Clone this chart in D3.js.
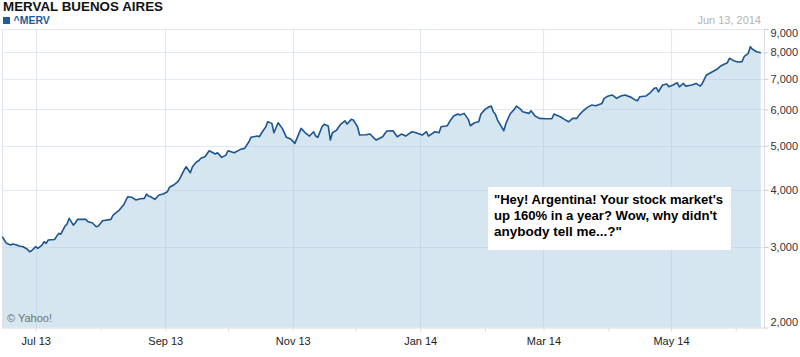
<!DOCTYPE html>
<html><head><meta charset="utf-8">
<script src="https://cdn.jsdelivr.net/npm/d3@7"></script>
<style>
html,body{margin:0;padding:0;background:#fff;}
svg{display:block;font-family:"Liberation Sans",Arial,sans-serif;}
</style></head>
<body><svg id="c" width="800" height="357"></svg>
<script>
const title = "MERVAL BUENOS AIRES";
const seriesName = "^MERV";
const dateLabel = "Jun 13, 2014";
const credit = "\u00A9 Yahoo!";
const noteLines = ["\"Hey! Argentina! Your stock market's", "up 160% in a year? Wow, why didn't", "anybody tell me...?\""];
const yTicks = [2000, 3000, 4000, 5000, 6000, 7000, 8000, 9000];
const xTickMonths = ["2013-07-01","2013-08-01","2013-09-01","2013-10-01","2013-11-01","2013-12-01","2014-01-01","2014-02-01","2014-03-01","2014-04-01","2014-05-01","2014-06-01"];
const xLabelMonths = ["2013-07-01","2013-09-01","2013-11-01","2014-01-01","2014-03-01","2014-05-01"];

const dates = ["2013-06-15","2013-06-17","2013-06-19","2013-06-20","2013-06-22","2013-06-23","2013-06-25","2013-06-27","2013-06-28","2013-06-29",
"2013-07-01","2013-07-02","2013-07-04","2013-07-05","2013-07-06","2013-07-07","2013-07-10","2013-07-12","2013-07-13","2013-07-15",
"2013-07-16","2013-07-17","2013-07-19","2013-07-20","2013-07-21","2013-07-25","2013-07-26","2013-07-28","2013-07-30","2013-07-31",
"2013-08-02","2013-08-06","2013-08-07","2013-08-10","2013-08-12","2013-08-14","2013-08-16","2013-08-18","2013-08-20","2013-08-22",
"2013-08-23","2013-08-24","2013-08-25","2013-08-27","2013-08-29","2013-08-31","2013-09-02","2013-09-03","2013-09-05","2013-09-07",
"2013-09-08","2013-09-10","2013-09-11","2013-09-13","2013-09-14","2013-09-16","2013-09-17","2013-09-18","2013-09-20","2013-09-22",
"2013-09-25","2013-09-26","2013-09-28","2013-09-30","2013-10-01","2013-10-04","2013-10-07","2013-10-09","2013-10-11","2013-10-12",
"2013-10-15","2013-10-16","2013-10-18","2013-10-19","2013-10-20","2013-10-22","2013-10-23","2013-10-25","2013-10-27","2013-10-29",
"2013-10-31","2013-11-02","2013-11-03","2013-11-05","2013-11-07","2013-11-09","2013-11-11","2013-11-12","2013-11-13","2013-11-15",
"2013-11-16","2013-11-18","2013-11-19","2013-11-20","2013-11-22","2013-11-24","2013-11-26","2013-11-27","2013-11-29","2013-11-30",
"2013-12-02","2013-12-03","2013-12-06","2013-12-08","2013-12-10","2013-12-11","2013-12-14","2013-12-16","2013-12-19","2013-12-21",
"2013-12-23","2013-12-25","2013-12-28","2013-12-30","2014-01-02","2014-01-04","2014-01-05","2014-01-08","2014-01-10","2014-01-11",
"2014-01-14","2014-01-15","2014-01-17","2014-01-19","2014-01-20","2014-01-22","2014-01-24","2014-01-25","2014-01-27","2014-01-29",
"2014-01-30","2014-02-01","2014-02-03","2014-02-04","2014-02-05","2014-02-06","2014-02-07","2014-02-10","2014-02-11","2014-02-13",
"2014-02-15","2014-02-16","2014-02-18","2014-02-19","2014-02-22","2014-02-23","2014-02-25","2014-02-27","2014-03-02","2014-03-05",
"2014-03-06","2014-03-09","2014-03-11","2014-03-13","2014-03-15","2014-03-17","2014-03-18","2014-03-20","2014-03-22","2014-03-24",
"2014-03-26","2014-03-29","2014-03-30","2014-04-01","2014-04-03","2014-04-05","2014-04-07","2014-04-09","2014-04-12","2014-04-14",
"2014-04-15","2014-04-16","2014-04-19","2014-04-21","2014-04-23","2014-04-24","2014-04-25","2014-04-27","2014-04-29","2014-04-30",
"2014-05-02","2014-05-04","2014-05-05","2014-05-07","2014-05-08","2014-05-11","2014-05-13","2014-05-15","2014-05-16","2014-05-18",
"2014-05-20","2014-05-23","2014-05-25","2014-05-28","2014-05-29","2014-05-31","2014-06-02","2014-06-04","2014-06-05","2014-06-07",
"2014-06-08","2014-06-09","2014-06-11","2014-06-13"];

const values = [3160,3056,3030,3045,3030,3015,3005,2966,2930,2945,
3005,2980,3030,3081,3056,3108,3117,3214,3200,3335,
3368,3467,3350,3391,3449,3449,3408,3391,3323,3335,
3425,3449,3525,3615,3707,3865,3854,3802,3826,3834,
3918,3878,3865,3815,3898,3918,3964,4053,4100,4169,
4241,4422,4496,4362,4496,4611,4634,4691,4729,4873,
4793,4824,4713,4768,4873,4824,4908,4932,5099,5214,
5248,5230,5409,5483,5639,5594,5335,5611,5455,5214,
5169,5058,5187,5455,5335,5248,5363,5248,5214,5500,
5567,5519,5143,5335,5409,5575,5668,5575,5708,5688,
5500,5274,5282,5301,5187,5143,5230,5382,5390,5230,
5301,5248,5363,5335,5274,5363,5248,5363,5335,5500,
5528,5639,5804,5862,5833,5883,5708,5528,5611,5639,
5854,6003,6082,6104,5931,5854,5688,5390,5590,5862,
6003,6104,6010,5931,5883,5961,5804,5737,5725,5725,
5862,5783,5708,5639,5737,5737,5833,5961,6064,6134,
6113,6187,6345,6419,6452,6345,6419,6452,6377,6291,
6269,6397,6419,6527,6674,6694,6560,6786,6820,6727,
6786,6865,6727,6842,6750,6786,6842,6750,6842,7139,
7222,7347,7482,7595,7765,7673,7622,7634,7828,7964,
8233,8126,8028,7988];

const parse = d3.timeParse("%Y-%m-%d");
const data = dates.map((d, i) => ({date: parse(d), value: values[i]}));

const svg = d3.select("#c");
const pLeft = 2.3, pRight = 762.9, pTop = 29, pBottom = 327.5, axisX = 764;

const x = d3.scaleTime().domain([parse("2013-06-15"), parse("2014-06-14")]).range([pLeft, pRight]);
const y = d3.scaleLog().domain([2000, 9000]).range([pBottom, pTop]);

// area fill
const area = d3.area().x(d => x(d.date)).y0(pBottom).y1(d => y(d.value));
svg.append("path").datum(data).attr("d", area).attr("fill", "#d6e6f1");

// gridlines (semi-transparent over fill)
const gridColor = "rgba(170,190,215,0.32)";
svg.append("g").selectAll("line").data(yTicks.slice(1)).join("line")
  .attr("x1", 2).attr("x2", axisX).attr("y1", d => Math.round(y(d)) + 0.5).attr("y2", d => Math.round(y(d)) + 0.5)
  .attr("stroke", gridColor).attr("stroke-width", 1.2);
svg.append("g").selectAll("line").data(xLabelMonths.map(parse)).join("line")
  .attr("x1", d => Math.round(x(d)) + 0.5).attr("x2", d => Math.round(x(d)) + 0.5)
  .attr("y1", pTop).attr("y2", pBottom)
  .attr("stroke", gridColor).attr("stroke-width", 1.2);

// frame: left, bottom, right axis
svg.append("line").attr("x1", 2.5).attr("x2", 2.5).attr("y1", pTop).attr("y2", pBottom).attr("stroke", "#dde2ea");
svg.append("line").attr("x1", 2).attr("x2", axisX).attr("y1", pBottom + 0.5).attr("y2", pBottom + 0.5).attr("stroke", "#dcdcdc");
svg.append("line").attr("x1", axisX + 0.5).attr("x2", axisX + 0.5).attr("y1", pTop).attr("y2", pBottom + 1).attr("stroke", "#dcdcdc");

// y axis (right)
const yAxis = d3.axisRight(y).tickValues(yTicks).tickFormat(d3.format(",")).tickSize(4).tickPadding(2);
const gy = svg.append("g").attr("transform", `translate(${axisX + 0.5},0)`).call(yAxis);
gy.select(".domain").remove();
gy.selectAll(".tick line").attr("stroke", "#cccccc");
gy.selectAll(".tick text").attr("font-size", 11).attr("fill", "#333").attr("font-family", "Liberation Sans, Arial, sans-serif")
  .attr("dy", d => d === 9000 ? "0.65em" : d === 2000 ? "-0.15em" : "0.32em");

// x axis
const xAxis = d3.axisBottom(x).tickValues(xTickMonths.map(parse)).tickSize(4)
  .tickFormat(d => xLabelMonths.includes(d3.timeFormat("%Y-%m-%d")(d)) ? d3.timeFormat("%b %y")(d) : "");
const gx = svg.append("g").attr("transform", `translate(0,${pBottom})`).call(xAxis);
gx.select(".domain").remove();
gx.selectAll(".tick line").attr("stroke", "#dcdcdc");
gx.selectAll(".tick text").attr("font-size", 11).attr("fill", "#222").attr("font-family", "Liberation Sans, Arial, sans-serif").attr("dy", "0.95em");

// line
const line = d3.line().x(d => x(d.date)).y(d => y(d.value));
svg.append("path").datum(data).attr("d", line).attr("fill", "none")
  .attr("stroke", "#1c5590").attr("stroke-width", 1.6).attr("stroke-linejoin", "round");

// title & legend
svg.append("text").attr("x", 3).attr("y", 11).attr("font-size", 13).attr("font-weight", "bold").attr("fill", "#111")
  .attr("textLength", 160).attr("lengthAdjust", "spacingAndGlyphs").text(title);
svg.append("rect").attr("x", 3).attr("y", 17).attr("width", 7).attr("height", 7).attr("fill", "#1f5c99");
svg.append("text").attr("x", 13.5).attr("y", 24).attr("font-size", 10.5).attr("font-weight", "bold").attr("fill", "#1f5c99").text(seriesName);
svg.append("text").attr("x", 761).attr("y", 24).attr("text-anchor", "end").attr("font-size", 11).attr("fill", "#b4b4b4").text(dateLabel);

// credit
svg.append("text").attr("x", 7).attr("y", 322).attr("font-size", 11).attr("fill", "#707070").text(credit);

// annotation box
svg.append("rect").attr("x", 488).attr("y", 187).attr("width", 243).attr("height", 63).attr("fill", "#fff");
const noteW = [229, 223, 128];
svg.append("g").selectAll("text").data(noteLines).join("text")
  .attr("x", 494).attr("y", (d, i) => 203.5 + i * 16.2)
  .attr("font-size", 12).attr("font-weight", "bold").attr("fill", "#000")
  .attr("textLength", (d, i) => noteW[i]).attr("lengthAdjust", "spacingAndGlyphs")
  .text(d => d);
</script></body></html>
